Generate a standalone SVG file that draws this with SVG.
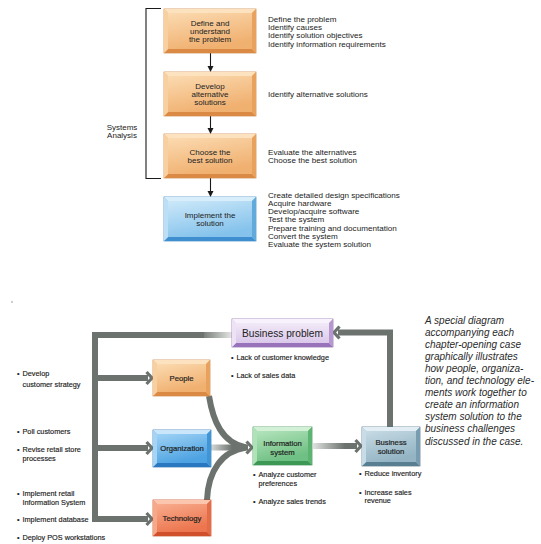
<svg xmlns="http://www.w3.org/2000/svg" width="541" height="544" viewBox="0 0 541 544">
<defs>
<style>
text{font-family:"Liberation Sans",Arial,sans-serif;fill:#222}
.lbl{font-size:8px;text-anchor:middle}
.side{font-size:8.1px}
.bul{font-size:7.3px;fill:#1c1c1c;stroke:#1c1c1c;stroke-width:0.15}
.nl{font-size:7.7px;text-anchor:middle;fill:#1e1e1e;stroke:#1e1e1e;stroke-width:0.2}
.note{font-size:10px;font-style:italic;fill:#2a2a2a}
.o{stroke-width:0.7}
.or .t{fill:#fde2bf}.or .l{fill:#f8d0a0}.or .r{fill:#e9a25e}.or .b{fill:#da8a44}.or .o{fill:#f2bd82;stroke:#c98040}.or .i{fill:url(#gOr)}
.bl .t{fill:#d8eefb}.bl .l{fill:#bcdff6}.bl .r{fill:#62a9dc}.bl .b{fill:#3f8ecf}.bl .o{fill:#8cc6ee;stroke:#3a84c0}.bl .i{fill:url(#gBl)}
.bo .t{fill:#c9e6fa}.bo .l{fill:#a6d4f4}.bo .r{fill:#3f95d6}.bo .b{fill:#2a78bf}.bo .o{fill:#6ab4ea;stroke:#2a70b0}.bo .i{fill:url(#gBo)}
.rd .t{fill:#fcc6ae}.rd .l{fill:#f7a888}.rd .r{fill:#e46c46}.rd .b{fill:#d0502b}.rd .o{fill:#f08a66;stroke:#c04822}.rd .i{fill:url(#gRd)}
.gr .t{fill:#d2f0d6}.gr .l{fill:#b0e2b8}.gr .r{fill:#5cb372}.gr .b{fill:#3d9855}.gr .o{fill:#86cf96;stroke:#368a4e}.gr .i{fill:url(#gGr)}
.pu .t{fill:#f8f2fc}.pu .l{fill:#ede3f5}.pu .r{fill:#b797d0}.pu .b{fill:#9872ba}.pu .o{fill:#dccbeb;stroke:#8a68aa}.pu .i{fill:url(#gPu)}
.sl .t{fill:#e2eef3}.sl .l{fill:#c7dce6}.sl .r{fill:#789db0}.sl .b{fill:#587e92}.sl .o{fill:#a6c2cf;stroke:#4e6e80}.sl .i{fill:url(#gSl)}
.pipe{fill:none;stroke:#6c726e;stroke-width:6}
.pipe2{fill:none;stroke:#80867f;stroke-width:3}
.chev{fill:none;stroke:#6c726e;stroke-width:3.2;stroke-linejoin:miter;stroke-linecap:butt}
.ln{stroke:#1a1a1a;stroke-width:1.1;fill:none}
.ah{fill:#1a1a1a}
</style>
<linearGradient id="gOr" x1="0" y1="0" x2="0.4" y2="1"><stop offset="0" stop-color="#fbdab0"/><stop offset="1" stop-color="#f0b070"/></linearGradient>
<linearGradient id="gBl" x1="0" y1="0" x2="0.4" y2="1"><stop offset="0" stop-color="#cce8f9"/><stop offset="1" stop-color="#86c3ec"/></linearGradient>
<linearGradient id="gBo" x1="0" y1="0" x2="0.4" y2="1"><stop offset="0" stop-color="#9fd2f5"/><stop offset="1" stop-color="#4ea3e2"/></linearGradient>
<linearGradient id="gRd" x1="0" y1="0" x2="0.4" y2="1"><stop offset="0" stop-color="#f8ac8e"/><stop offset="1" stop-color="#ec764f"/></linearGradient>
<linearGradient id="gGr" x1="0" y1="0" x2="0.4" y2="1"><stop offset="0" stop-color="#b3e3bb"/><stop offset="1" stop-color="#6fc084"/></linearGradient>
<linearGradient id="gPu" x1="0" y1="0" x2="0" y2="1"><stop offset="0" stop-color="#f1e9f7"/><stop offset="1" stop-color="#dac8ea"/></linearGradient>
<linearGradient id="gSl" x1="0" y1="0" x2="0.4" y2="1"><stop offset="0" stop-color="#c6dbe4"/><stop offset="1" stop-color="#94b4c4"/></linearGradient>
<linearGradient id="fadeL" gradientUnits="userSpaceOnUse" x1="200" y1="0" x2="232" y2="0"><stop offset="0" stop-color="#6c726e"/><stop offset="1" stop-color="#e4e6e4"/></linearGradient>
<linearGradient id="fadeO" gradientUnits="userSpaceOnUse" x1="211" y1="0" x2="232" y2="0"><stop offset="0" stop-color="#d6d9d7"/><stop offset="1" stop-color="#6c726e"/></linearGradient>
<linearGradient id="fadeI" gradientUnits="userSpaceOnUse" x1="313" y1="0" x2="345" y2="0"><stop offset="0" stop-color="#dfe2e0"/><stop offset="1" stop-color="#6c726e"/></linearGradient>
</defs>
<rect width="541" height="544" fill="#ffffff"/>

<!-- ===== Top: Systems analysis flow ===== -->
<g id="bracket">
<path class="ln" d="M161 8.5 H146 V178.5 H161"/>
<text x="122" y="129.5" class="lbl">Systems</text>
<text x="122" y="137.5" class="lbl">Analysis</text>
</g>

<g id="connectors-top">
<line class="ln" x1="210.5" y1="53" x2="210.5" y2="67"/><polygon class="ah" points="207.5,66 213.5,66 210.5,72"/>
<line class="ln" x1="210.5" y1="116" x2="210.5" y2="129"/><polygon class="ah" points="207.5,128 213.5,128 210.5,134"/>
<line class="ln" x1="210.5" y1="178" x2="210.5" y2="192"/><polygon class="ah" points="207.5,191 213.5,191 210.5,197"/>
</g>

<g id="define" class="or" transform="translate(164,9)">
<rect class="o" width="92" height="44"/>
<polygon class="t" points="0,0 92,0 88,4 4,4"/><polygon class="b" points="0,44 92,44 88,40 4,40"/>
<polygon class="l" points="0,0 4,4 4,40 0,44"/><polygon class="r" points="92,0 88,4 88,40 92,44"/>
<rect class="i" x="4" y="4" width="84" height="36"/>
<text class="lbl" x="46" y="17">Define and</text>
<text class="lbl" x="46" y="25.2">understand</text>
<text class="lbl" x="46" y="33.4">the problem</text>
</g>
<g id="define-notes">
<text class="side" x="268" y="22">Define the problem</text>
<text class="side" x="268" y="30.2">Identify causes</text>
<text class="side" x="268" y="38.4">Identify solution objectives</text>
<text class="side" x="268" y="46.6">Identify information requirements</text>
</g>

<g id="develop" class="or" transform="translate(164,72)">
<rect class="o" width="92" height="44"/>
<polygon class="t" points="0,0 92,0 88,4 4,4"/><polygon class="b" points="0,44 92,44 88,40 4,40"/>
<polygon class="l" points="0,0 4,4 4,40 0,44"/><polygon class="r" points="92,0 88,4 88,40 92,44"/>
<rect class="i" x="4" y="4" width="84" height="36"/>
<text class="lbl" x="46" y="17">Develop</text>
<text class="lbl" x="46" y="25.2">alternative</text>
<text class="lbl" x="46" y="33.4">solutions</text>
</g>
<text class="side" x="268" y="97">Identify alternative solutions</text>

<g id="choose" class="or" transform="translate(164,134)">
<rect class="o" width="92" height="44"/>
<polygon class="t" points="0,0 92,0 88,4 4,4"/><polygon class="b" points="0,44 92,44 88,40 4,40"/>
<polygon class="l" points="0,0 4,4 4,40 0,44"/><polygon class="r" points="92,0 88,4 88,40 92,44"/>
<rect class="i" x="4" y="4" width="84" height="36"/>
<text class="lbl" x="46" y="20.5">Choose the</text>
<text class="lbl" x="46" y="28.7">best solution</text>
</g>
<g id="choose-notes">
<text class="side" x="268" y="154.5">Evaluate the alternatives</text>
<text class="side" x="268" y="162.7">Choose the best solution</text>
</g>

<g id="implement" class="bl" transform="translate(164,197)">
<rect class="o" width="92" height="44"/>
<polygon class="t" points="0,0 92,0 88,4 4,4"/><polygon class="b" points="0,44 92,44 88,40 4,40"/>
<polygon class="l" points="0,0 4,4 4,40 0,44"/><polygon class="r" points="92,0 88,4 88,40 92,44"/>
<rect class="i" x="4" y="4" width="84" height="36"/>
<text class="lbl" x="46" y="20.8">Implement the</text>
<text class="lbl" x="46" y="29">solution</text>
</g>
<g id="implement-notes">
<text class="side" x="268" y="197.8">Create detailed design specifications</text>
<text class="side" x="268" y="206">Acquire hardware</text>
<text class="side" x="268" y="214.2">Develop/acquire software</text>
<text class="side" x="268" y="222.4">Test the system</text>
<text class="side" x="268" y="230.6">Prepare training and documentation</text>
<text class="side" x="268" y="238.8">Convert the system</text>
<text class="side" x="268" y="247">Evaluate the system solution</text>
</g>

<!-- ===== Bottom: chapter-opening diagram ===== -->
<circle cx="12" cy="302" r="0.7" fill="#777"/>

<g id="connectors-bottom">
<path class="pipe" d="M205 335 H95 V519 H148"/>
<path class="pipe" d="M95 378 H148 M95 448 H148"/>
<path fill="none" stroke="url(#fadeL)" stroke-width="6" d="M204 335 H232"/>
<path class="chev" d="M146.5 372 L152 378 L146.5 384 M146.5 442 L152 448 L146.5 454 M146.5 513 L152 519 L146.5 525"/>
<path class="pipe" d="M390 427 V332.5 H338"/>
<path class="chev" d="M339.5 326.5 L334 332.5 L339.5 338.5"/>
<path class="pipe" stroke-width="5" d="M209 396 C213 421, 222 443, 246 447.5"/>
<path class="pipe" stroke-width="5" d="M207 500 C208 471, 222 451, 246 447.5"/>
<path fill="none" stroke="url(#fadeO)" stroke-width="6" d="M211 447.5 H248"/>
<path class="chev" d="M246.5 441.5 L252 447.5 L246.5 453.5"/>
<path fill="none" stroke="url(#fadeI)" stroke-width="6" d="M313 446 H357"/>
<path class="chev" d="M355.5 440 L361 446 L355.5 452"/>
</g>

<g id="business-problem" class="pu" transform="translate(232,319)">
<rect class="o" width="101" height="28"/>
<polygon class="t" points="0,0 101,0 97,4 4,4"/><polygon class="b" points="0,28 101,28 97,24 4,24"/>
<polygon class="l" points="0,0 4,4 4,24 0,28"/><polygon class="r" points="101,0 97,4 97,24 101,28"/>
<rect class="i" x="4" y="4" width="93" height="20"/>
<text x="50.5" y="17.8" font-size="10.2" text-anchor="middle" fill="#1e1e1e">Business problem</text>
</g>
<g id="problem-notes">
<text class="bul" x="231" y="359.5">•<tspan x="236.5">Lack of customer knowledge</tspan></text>
<text class="bul" x="231" y="377.5">•<tspan x="236.5">Lack of sales data</tspan></text>
</g>

<g id="people" class="or" transform="translate(153,360)">
<rect class="o" width="57" height="36"/>
<polygon class="t" points="0,0 57,0 53,4 4,4"/><polygon class="b" points="0,36 57,36 53,32 4,32"/>
<polygon class="l" points="0,0 4,4 4,32 0,36"/><polygon class="r" points="57,0 53,4 53,32 57,36"/>
<rect class="i" x="4" y="4" width="49" height="28"/>
<text class="nl" x="28.5" y="21">People</text>
</g>

<g id="organization" class="bo" transform="translate(153,430)">
<rect class="o" width="58" height="37"/>
<polygon class="t" points="0,0 58,0 54,4 4,4"/><polygon class="b" points="0,37 58,37 54,33 4,33"/>
<polygon class="l" points="0,0 4,4 4,33 0,37"/><polygon class="r" points="58,0 54,4 54,33 58,37"/>
<rect class="i" x="4" y="4" width="50" height="29"/>
<text class="nl" x="29" y="21">Organization</text>
</g>

<g id="technology" class="rd" transform="translate(153,500)">
<rect class="o" width="58" height="36"/>
<polygon class="t" points="0,0 58,0 54,4 4,4"/><polygon class="b" points="0,36 58,36 54,32 4,32"/>
<polygon class="l" points="0,0 4,4 4,32 0,36"/><polygon class="r" points="58,0 54,4 54,32 58,36"/>
<rect class="i" x="4" y="4" width="50" height="28"/>
<text class="nl" x="29" y="21">Technology</text>
</g>

<g id="information-system" class="gr" transform="translate(253,427)">
<rect class="o" width="59" height="38"/>
<polygon class="t" points="0,0 59,0 55,4 4,4"/><polygon class="b" points="0,38 59,38 55,34 4,34"/>
<polygon class="l" points="0,0 4,4 4,34 0,38"/><polygon class="r" points="59,0 55,4 55,34 59,38"/>
<rect class="i" x="4" y="4" width="51" height="30"/>
<text class="nl" x="29.5" y="18.5">Information</text>
<text class="nl" x="29.5" y="27.5">system</text>
</g>
<g id="is-notes">
<text class="bul" x="253" y="476.5">•<tspan x="258.5">Analyze customer</tspan></text>
<text class="bul" x="258.5" y="485.5">preferences</text>
<text class="bul" x="253" y="503.5">•<tspan x="258.5">Analyze sales trends</tspan></text>
</g>

<g id="business-solution" class="sl" transform="translate(362,427)">
<rect class="o" width="58" height="39"/>
<polygon class="t" points="0,0 58,0 54,4 4,4"/><polygon class="b" points="0,39 58,39 54,35 4,35"/>
<polygon class="l" points="0,0 4,4 4,35 0,39"/><polygon class="r" points="58,0 54,4 54,35 58,39"/>
<rect class="i" x="4" y="4" width="50" height="31"/>
<text class="nl" x="29" y="17.5">Business</text>
<text class="nl" x="29" y="26.5">solution</text>
</g>
<g id="solution-notes">
<text class="bul" x="359" y="475.5">•<tspan x="364.5">Reduce inventory</tspan></text>
<text class="bul" x="359" y="494.5">•<tspan x="364.5">Increase sales</tspan></text>
<text class="bul" x="364.5" y="503">revenue</text>
</g>

<g id="left-notes">
<text class="bul" x="17" y="375.5">•<tspan x="22.5">Develop</tspan></text>
<text class="bul" x="22.5" y="386.5">customer strategy</text>
<text class="bul" x="17" y="433.5">•<tspan x="22.5">Poll customers</tspan></text>
<text class="bul" x="17" y="451.5">•<tspan x="22.5">Revise retail store</tspan></text>
<text class="bul" x="22.5" y="460.5">processes</text>
<text class="bul" x="17" y="495.5">•<tspan x="22.5">Implement retail</tspan></text>
<text class="bul" x="22.5" y="504.5">Information System</text>
<text class="bul" x="17" y="521.5">•<tspan x="22.5">Implement database</tspan></text>
<text class="bul" x="17" y="539.5">•<tspan x="22.5">Deploy POS workstations</tspan></text>
</g>

<g id="caption">
<text class="note" x="425" y="323.5">A special diagram</text>
<text class="note" x="425" y="335.6">accompanying each</text>
<text class="note" x="425" y="347.7">chapter-opening case</text>
<text class="note" x="425" y="359.8">graphically illustrates</text>
<text class="note" x="425" y="371.9">how people, organiza-</text>
<text class="note" x="425" y="384">tion, and technology ele-</text>
<text class="note" x="425" y="396.1">ments work together to</text>
<text class="note" x="425" y="408.2">create an information</text>
<text class="note" x="425" y="420.3">system solution to the</text>
<text class="note" x="425" y="432.4">business challenges</text>
<text class="note" x="425" y="444.5">discussed in the case.</text>
</g>
</svg>
